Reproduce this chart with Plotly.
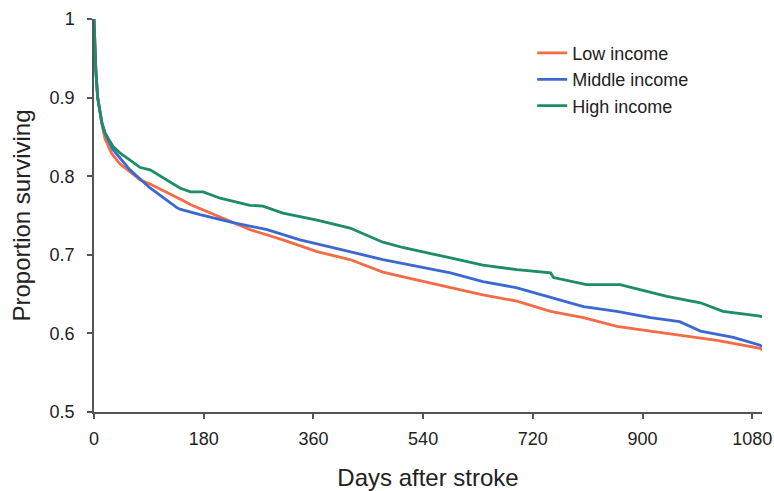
import plotly.graph_objects as go

days_low = [0, 1, 3, 6, 13, 18, 29, 42, 76, 92, 108, 146, 158, 202, 207, 256, 310, 366, 420, 474, 529, 585, 638, 694, 749, 803, 858, 913, 967, 1022, 1093, 1096]
surv_low = [1.0, 0.97, 0.935, 0.90, 0.866, 0.848, 0.829, 0.816, 0.795, 0.790, 0.784, 0.769, 0.764, 0.750, 0.748, 0.732, 0.719, 0.704, 0.694, 0.678, 0.668, 0.658, 0.649, 0.641, 0.628, 0.620, 0.609, 0.603, 0.597, 0.591, 0.581, 0.579]

days_mid = [0, 1, 3, 6, 13, 18, 31, 59, 92, 136, 141, 174, 190, 228, 284, 338, 392, 474, 585, 638, 694, 749, 803, 858, 913, 961, 995, 1049, 1093, 1096]
surv_mid = [1.0, 0.97, 0.935, 0.90, 0.867, 0.855, 0.834, 0.808, 0.785, 0.760, 0.758, 0.751, 0.748, 0.741, 0.732, 0.719, 0.709, 0.694, 0.677, 0.666, 0.658, 0.646, 0.634, 0.628, 0.620, 0.615, 0.603, 0.595, 0.585, 0.583]

days_high = [0, 1, 3, 6, 13, 18, 31, 42, 76, 92, 125, 141, 158, 179, 207, 256, 277, 310, 366, 420, 474, 508, 585, 638, 694, 749, 754, 808, 863, 940, 995, 1032, 1093, 1096]
surv_high = [1.0, 0.97, 0.935, 0.90, 0.868, 0.855, 0.838, 0.830, 0.811, 0.808, 0.792, 0.785, 0.780, 0.780, 0.772, 0.763, 0.762, 0.753, 0.744, 0.734, 0.716, 0.709, 0.696, 0.687, 0.681, 0.677, 0.671, 0.662, 0.662, 0.647, 0.639, 0.628, 0.622, 0.621]

x_ticks = [0, 180, 360, 540, 720, 900, 1080]
y_ticks = [0.5, 0.6, 0.7, 0.8, 0.9, 1.0]
y_tick_labels = ["0.5", "0.6", "0.7", "0.8", "0.9", "1"]

series = [
    ("Low income", days_low, surv_low, "#F36B47"),
    ("Middle income", days_mid, surv_mid, "#3B69D1"),
    ("High income", days_high, surv_high, "#1C8C69"),
]

fig = go.Figure()
for name, x, y, c in series:
    fig.add_trace(go.Scatter(x=x, y=y, mode="lines", name=name,
                             line=dict(color=c, width=2.8)))

font_family = "Liberation Sans, Arial, sans-serif"
fig.update_layout(
    width=774, height=491,
    margin=dict(l=94, r=12, t=19, b=79),
    paper_bgcolor="white", plot_bgcolor="white",
    font=dict(family=font_family, color="#222222", size=18),
    legend=dict(x=0.656, y=0.96, xanchor="left", yanchor="top",
                font=dict(size=18, color="#222222"),
                bgcolor="rgba(0,0,0,0)", itemwidth=30),
    showlegend=True,
)
fig.update_xaxes(
    range=[0, 1096], tickvals=x_ticks, ticktext=[str(v) for v in x_ticks],
    showgrid=False, zeroline=False, showline=True, linecolor="#555555", linewidth=1.5,
    ticks="outside", ticklen=5, tickcolor="#555555", tickwidth=1.5,
    tickfont=dict(size=18), ticklabelstandoff=5, automargin=False,
    title=dict(text="Days after stroke", font=dict(size=24), standoff=23),
)
fig.update_yaxes(
    range=[0.5, 1.0], tickvals=y_ticks, ticktext=y_tick_labels,
    showgrid=False, zeroline=False, showline=True, linecolor="#555555", linewidth=1.5,
    ticks="outside", ticklen=5, tickcolor="#555555", tickwidth=1.5,
    tickfont=dict(size=18), ticklabelstandoff=9, automargin=False,
    title=dict(text="Proportion surviving", font=dict(size=24), standoff=12),
)

fig.write_html("out.html", config={"displayModeBar": False},
               post_script="document.body.style.margin='0';")
